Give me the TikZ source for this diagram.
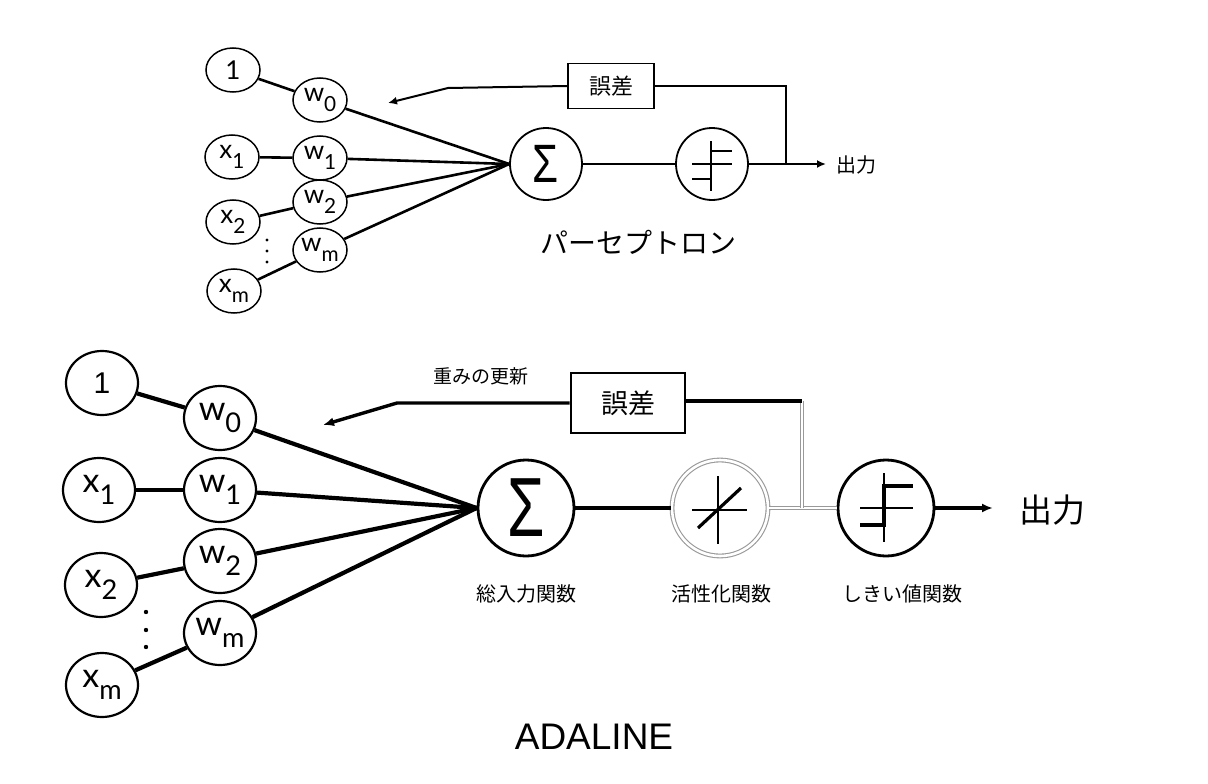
\documentclass[tikz,border=0pt]{standalone}
\usepackage{fontspec}
\usepackage{graphicx}
\setmainfont{Lato}
\newfontfamily\jp{Noto Sans CJK JP}
\newfontfamily\arial{Liberation Sans}
\usetikzlibrary{arrows.meta,shapes.geometric}
\newcommand\sbs[1]{\raisebox{-0.36em}{\scalebox{0.8}{#1}}}
\begin{document}
\begin{tikzpicture}[x=1pt,y=-1pt,
  tin/.style={draw, ellipse, line width=1.5pt, minimum width=54pt, minimum height=44pt, inner sep=0pt, font=\fontsize{26}{26}\selectfont},
  bin/.style={draw, ellipse, line width=2.2pt, minimum width=72pt, minimum height=64pt, inner sep=0pt, font=\fontsize{34}{34}\selectfont},
  tl/.style={line width=2.6pt},
  tf/.style={line width=2pt},
  bl/.style={line width=4.2pt},
  bf/.style={line width=3.4pt},
  tcirc/.style={draw, circle, line width=1.8pt, minimum size=72pt, inner sep=0pt},
  bcirc/.style={draw, circle, line width=2.8pt, minimum size=96pt, inner sep=0pt},
  dbl/.style={draw=black!40, double=white, double distance=2.6pt, line width=1.1pt},
  jlab/.style={font=\jp\fontsize{20}{20}\selectfont, inner sep=0pt},
  arr/.style={-{Latex[length=11pt,width=9pt]}},
  tarr/.style={-{Latex[length=9pt,width=8pt]}}
]
\useasboundingbox (0,0) rectangle (1208,784);
\fill[white] (0,0) rectangle (1208,784);

% ---------------- Perceptron (top) ----------------
\node[tin] (t1) at (233,70) {1};
\node[tin] (tw0) at (320,100) {w\sbs{0}};
\node[tin] (tx1) at (232,157) {x\sbs{1}};
\node[tin] (tw1) at (320,158) {w\sbs{1}};
\node[tin] (tx2) at (233,222) {x\sbs{2}};
\node[tin] (tw2) at (320,202) {w\sbs{2}};
\node[tin] (txm) at (234,291) {x\sbs{m}};
\node[tin] (twm) at (320,250) {w\sbs{m}};
\foreach \yy in {240,251,262} \fill (267,\yy) circle (1.6pt);

\node[tcirc] (ts) at (546,164) {\arial\scalebox{0.78}[1]{\fontsize{54}{54}\selectfont Σ}};
\node[tcirc] (tst) at (712,164) {};
\begin{scope}[shift={(tst.center)}]
  \draw[line width=1.2pt] (-20,0) -- (20,0) (-1,-23) -- (-1,27);
  \draw[line width=1.8pt] (-20,15) -- (-1,15) -- (-1,-13) -- (20,-13);
\end{scope}

\draw[tl] (t1) -- (tw0);
\draw[tl] (tx1) -- (tw1);
\draw[tl] (tx2) -- (tw2);
\draw[tl] (txm) -- (twm);
\draw[tl] (tw0) -- (ts.west);
\draw[tl] (tw1) -- (ts.west);
\draw[tl] (tw2) -- (ts.west);
\draw[tl] (twm) -- (ts.west);
\draw[tl] (ts) -- (tst);

\node[draw, line width=1.6pt, minimum width=86pt, minimum height=45pt, inner sep=0pt, font=\jp\fontsize{22}{22}\selectfont] (terr) at (611,86) {誤差};
\coordinate (tout) at (826,164);
\coordinate (tj) at (786,164);
\coordinate (tbend) at (448,88);
\coordinate (ttip) at (388,103);
\draw[tf, tarr] (tst) -- (tout);
\draw[tf] (tj) |- (terr.east);
\draw[tf, tarr] (terr.west) -- (tbend) -- (ttip);
\node[jlab, anchor=west] (tol) at (836,165) {出力};
\node[font=\jp\fontsize{28}{28}\selectfont, inner sep=0pt] (tname) at (638,242) {パーセプトロン};

% ---------------- ADALINE (bottom) ----------------
\node[bin, font=\arial\fontsize{30}{30}\selectfont] (b1) at (102,383) {1};
\node[bin] (bw0) at (220,418) {w\sbs{0}};
\node[bin] (bx1) at (99,490) {x\sbs{1}};
\node[bin] (bw1) at (220,490) {w\sbs{1}};
\node[bin] (bx2) at (101,585) {x\sbs{2}};
\node[bin] (bw2) at (220,561) {w\sbs{2}};
\node[bin] (bxm) at (102,685) {x\sbs{m}};
\node[bin] (bwm) at (220,633) {w\sbs{m}};
\foreach \yy in {612,630,647} \fill (146,\yy) circle (2.2pt);

\node[bcirc] (bs) at (526,508) {\arial\scalebox{0.72}[1]{\fontsize{84}{84}\selectfont Σ}};
\node[circle, minimum size=98pt, inner sep=0pt] (ba) at (720,508) {};
\draw[dbl] (ba.center) circle (48pt);
\begin{scope}[shift={(ba.center)}]
  \draw[line width=1.4pt] (-2,-32) -- (-2,36) (-28,2) -- (27,2);
  \draw[line width=3.2pt] (-22,20) -- (21,-20);
\end{scope}
\node[bcirc] (bst) at (886,508) {};
\begin{scope}[shift={(bst.center)}]
  \draw[line width=1.4pt] (-26,0) -- (27,0) (-2,-35) -- (-2,34);
  \draw[line width=3.2pt] (-26,17) -- (-2,17) -- (-2,-22) -- (27,-22);
\end{scope}

\draw[bl] (b1) -- (bw0);
\draw[bl] (bx1) -- (bw1);
\draw[bl] (bx2) -- (bw2);
\draw[bl] (bxm) -- (bwm);
\draw[bl] (bw0) -- (bs.west);
\draw[bl] (bw1) -- (bs.west);
\draw[bl] (bw2) -- (bs.west);
\draw[bl] (bwm) -- (bs.west);
\draw[bl] (bs) -- (ba.west);

\coordinate (bj) at (802,508);
\coordinate (bjt) at (802,401);
\draw[dbl] (ba.east) -- (bst.west);
\draw[dbl] (bj) -- (bjt);

\node[draw, line width=2.8pt, minimum width=114pt, minimum height=60pt, inner sep=0pt, font=\jp\fontsize{27}{27}\selectfont] (berr) at (628,403) {誤差};
\coordinate (bbend) at (397,403);
\coordinate (btip) at (323,425);
\draw[bf] (bjt) -- (berr.east |- bjt);
\draw[bf, arr] (berr.west) -- (bbend) -- (btip);
\coordinate (bout) at (993,508);
\draw[bf, arr] (bst) -- (bout);

\node[font=\jp\fontsize{33}{33}\selectfont, inner sep=0pt, anchor=west] (bol) at (1019,510) {出力};
\node[jlab, font=\jp\fontsize{19}{19}\selectfont] (lupd) at (481,376) {重みの更新};
\node[jlab] (lsum) at (526,594) {総入力関数};
\node[jlab] (lact) at (721,594) {活性化関数};
\node[jlab] (lthr) at (902,594) {しきい値関数};
\node[font=\arial\fontsize{37}{37}\selectfont, inner sep=0pt] (title) at (594,737) {ADALINE};
\end{tikzpicture}
\end{document}
